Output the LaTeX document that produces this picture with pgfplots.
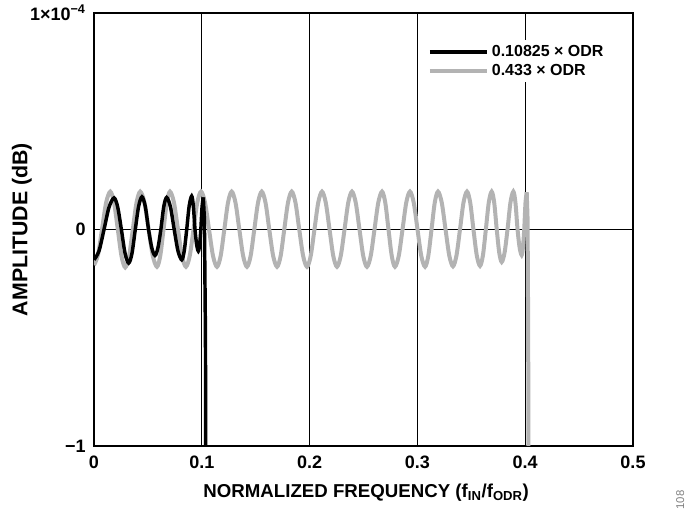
\documentclass[border=0pt]{standalone}
\usepackage{fontspec}
\setmainfont{Liberation Sans}
\usepackage{pgfplots}
\pgfplotsset{compat=1.18}
\definecolor{lightgr}{RGB}{179,179,179}

\begin{document}
\begin{tikzpicture}
\begin{axis}[
    name=main,
    scale only axis,
    width=404.25pt, height=324.75pt,
    xmin=0, xmax=0.5, ymin=-1, ymax=1,
    xtick={0,0.1,0.2,0.3,0.4,0.5},
    xticklabels={0,0.1,0.2,0.3,0.4,0.5},
    ytick={-1,0,1},
    yticklabels={−1,0,1×10\textsuperscript{−4}},
    major tick length=0pt,
    xmajorgrids, ymajorgrids,
    grid style={black, line width=0.9pt},
    axis line style={line width=1.1pt},
    tick label style={font=\fontsize{13.5}{15}\selectfont\bfseries},
    xticklabel style={yshift=-4pt},
    yticklabel style={xshift=-2.75pt},
    xlabel={NORMALIZED FREQUENCY (f\textsubscript{IN}/f\textsubscript{ODR})},
    ylabel={AMPLITUDE (dB)},
    xlabel style={font=\fontsize{14}{16}\selectfont\bfseries,
        at={(axis description cs:0.505,-0.1085)}, anchor=center},
    ylabel style={font=\fontsize{16}{18}\selectfont\bfseries,
        at={(axis description cs:-0.134,0.5)}, anchor=center},
    legend style={at={(0.614,0.938)}, anchor=north west, draw=none, fill=white,
        font=\fontsize{12}{14}\selectfont\bfseries, inner sep=2pt},
    legend cell align=left,
    legend image code/.code={\draw[#1] (0pt,0pt) -- (43pt,0pt);},
]
\addlegendimage{black, line width=2.6pt}
\addlegendentry{0.10825 × ODR}
\addlegendimage{lightgr, line width=3pt}
\addlegendentry{0.433 × ODR}

% 0.433 x ODR ripple
\addplot[forget plot, lightgr, line width=3pt, smooth] coordinates {
(0.0000,-0.165) (0.0037,-0.117) (0.0074,0.000) (0.01125,0.124) (0.0151,0.175)
(0.0186,0.124) (0.0221,0.000) (0.02555,-0.124) (0.0290,-0.175) (0.0325,-0.124)
(0.0360,0.000) (0.03945,0.124) (0.0429,0.175) (0.0468,0.124) (0.0507,0.000)
(0.05455,-0.122) (0.0584,-0.172) (0.06145,-0.122) (0.0645,0.000) (0.0675,0.124)
(0.0705,0.175) (0.0742,0.124) (0.0779,0.000) (0.0816,-0.122) (0.0853,-0.172)
(0.0888,-0.122) (0.0923,0.000) (0.0958,0.124) (0.0993,0.175) (0.1030,0.124)
(0.1067,0.000) (0.1104,-0.122) (0.1141,-0.172) (0.1175,-0.122) (0.1209,0.000)
(0.1243,0.124) (0.1277,0.175) (0.13125,0.124) (0.1348,0.000) (0.13835,-0.122)
(0.1419,-0.172) (0.1453,-0.122) (0.1487,0.000) (0.15215,0.124) (0.1556,0.175)
(0.1591,0.124) (0.1626,0.000) (0.1662,-0.122) (0.1698,-0.172) (0.17315,-0.122)
(0.1765,0.000) (0.17995,0.124) (0.1834,0.175) (0.1869,0.124) (0.1904,0.000)
(0.1940,-0.122) (0.1976,-0.172) (0.20105,-0.122) (0.2045,0.000) (0.2080,0.124)
(0.2115,0.175) (0.2150,0.124) (0.2185,0.000) (0.22195,-0.122) (0.2254,-0.172)
(0.2289,-0.122) (0.2324,0.000) (0.23585,0.124) (0.2393,0.175) (0.2428,0.124)
(0.2463,0.000) (0.24975,-0.122) (0.2532,-0.172) (0.2567,-0.122) (0.2602,0.000)
(0.2637,0.124) (0.2672,0.175) (0.2702,0.124) (0.2732,0.000) (0.2762,-0.122)
(0.2792,-0.172) (0.2827,-0.122) (0.2862,0.000) (0.28965,0.124) (0.2931,0.175)
(0.2966,0.124) (0.3001,0.000) (0.3036,-0.122) (0.3071,-0.172) (0.3101,-0.122)
(0.3131,0.000) (0.3161,0.124) (0.3191,0.175) (0.3226,0.124) (0.3261,0.000)
(0.32955,-0.120) (0.3330,-0.170) (0.33625,-0.120) (0.3395,0.000) (0.34275,0.124)
(0.3460,0.175) (0.3490,0.124) (0.3520,0.000) (0.35505,-0.119) (0.3581,-0.168)
(0.3608,-0.119) (0.3635,0.000) (0.3662,0.124) (0.3689,0.175) (0.37125,0.124)
(0.3736,0.000) (0.3759,-0.106) (0.3782,-0.150) (0.3809,-0.106) (0.3836,0.000)
(0.3863,0.124) (0.3890,0.175) (0.39095,0.124) (0.3929,0.000) (0.3948,-0.083)
(0.3967,-0.118) (0.3979,-0.083) (0.3991,0.000) (0.40025,0.122) (0.4014,0.172)
};
\addplot[forget plot, lightgr, line width=3pt] coordinates {
(0.4014,0.172) (0.4022,0.05) (0.4028,-0.5) (0.4030,-1.3)
};

% 0.10825 x ODR ripple
\addplot[forget plot, black, line width=2.6pt, smooth] coordinates {
(0.0000,-0.140) (0.00465,-0.099) (0.0093,0.000) (0.01395,0.103) (0.0186,0.146)
(0.0220,0.103) (0.0254,0.000) (0.0288,-0.110) (0.0322,-0.155) (0.03525,-0.110)
(0.0383,0.000) (0.0414,0.107) (0.0445,0.151) (0.04755,0.107) (0.0506,0.000)
(0.0536,-0.085) (0.0566,-0.120) (0.0593,-0.085) (0.0620,0.000) (0.0647,0.105)
(0.0674,0.148) (0.0709,0.105) (0.0744,0.000) (0.0779,-0.099) (0.0814,-0.140)
(0.0837,-0.099) (0.0860,0.000) (0.0883,0.109) (0.0906,0.154) (0.09215,0.109)
(0.0937,0.000) (0.09525,-0.071) (0.0968,-0.100) (0.09795,-0.071) (0.0991,0.000)
(0.10025,0.105) (0.1014,0.148)
};
\addplot[forget plot, black, line width=2.6pt] coordinates {
(0.1014,0.148) (0.1024,0.05) (0.1034,-0.5) (0.1037,-1.3)
};
\end{axis}
\path (main.south west) ++(-70.5pt,-48.75pt) coordinate (bl);
\path (main.north east) ++(43.5pt,9.75pt) coordinate (tr);
\path (bl) rectangle (tr);
\path (main.south east) ++(35.5pt,-40.5pt) node[rotate=90, text=gray, font=\fontsize{8.5}{9}\selectfont] {108};
\end{tikzpicture}
\end{document}
